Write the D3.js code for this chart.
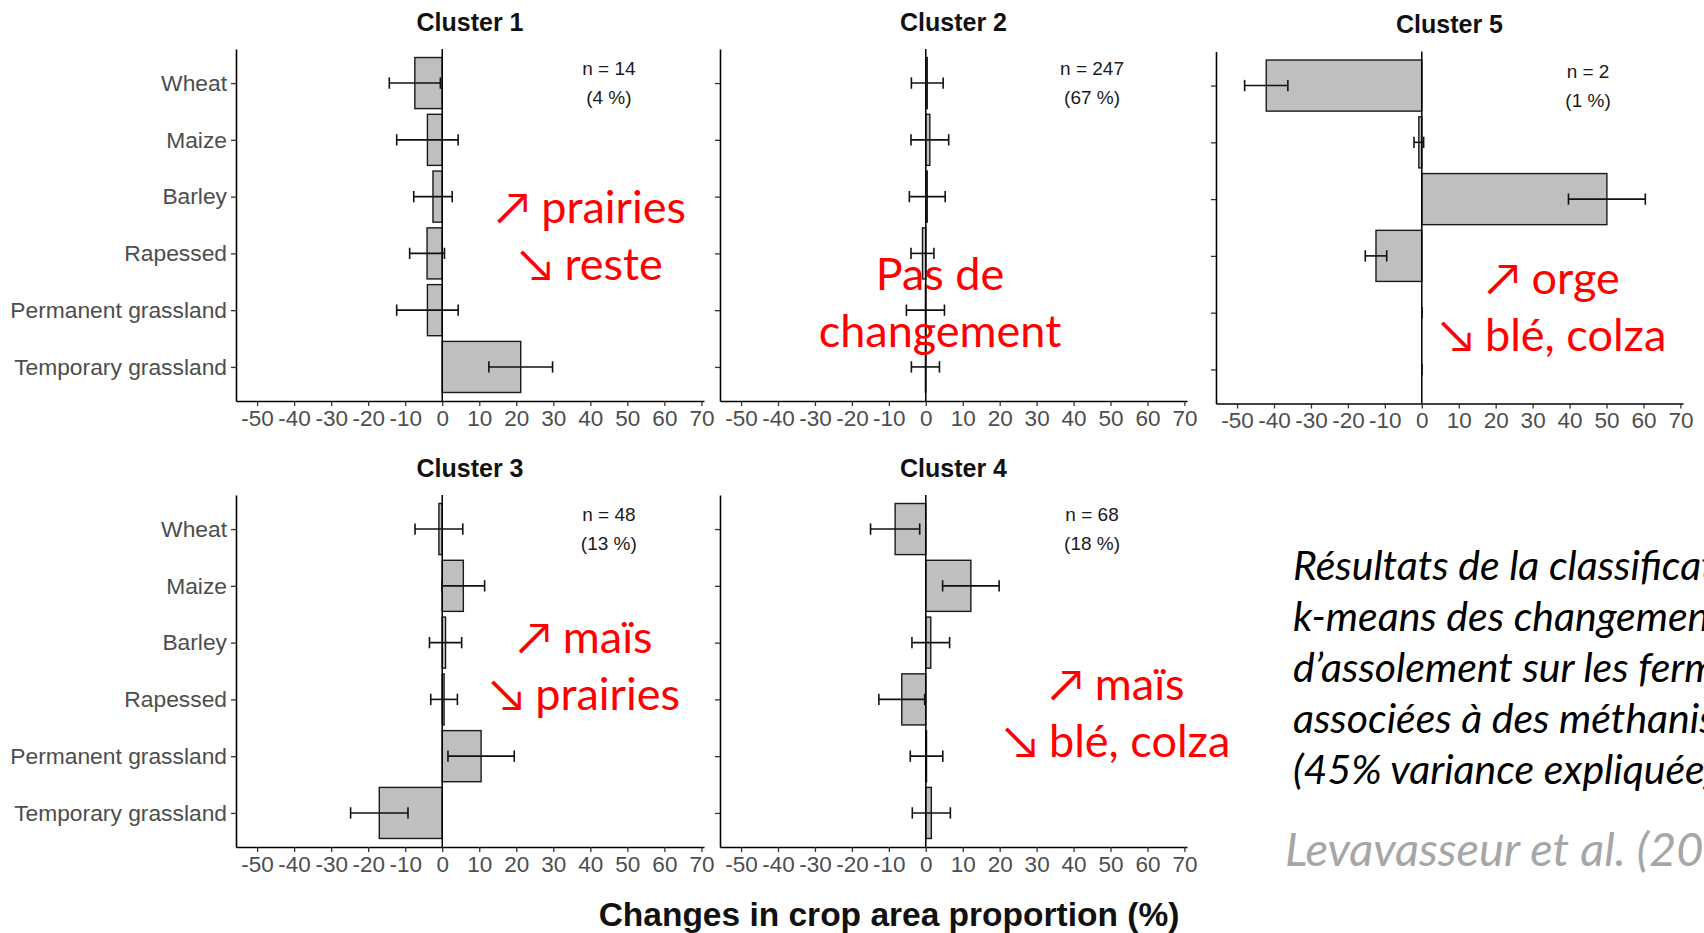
<!DOCTYPE html>
<html>
<head>
<meta charset="utf-8">
<script src="https://cdn.jsdelivr.net/npm/d3@7"></script>
<style>
  html, body { margin: 0; padding: 0; background: #fff; }
  svg { display: block; }
</style>
</head>
<body>
<svg id="chart" width="1704" height="933"></svg>
<script>
// ---------------- DATA ----------------
const categories = ["Wheat", "Maize", "Barley", "Rapessed", "Permanent grassland", "Temporary grassland"];
const xTicks = [-50, -40, -30, -20, -10, 0, 10, 20, 30, 40, 50, 60, 70];
const xDomain = [-55.7, 70.7];

const clusterNames = ["Cluster 1", "Cluster 2", "Cluster 5", "Cluster 3", "Cluster 4"];
const clusterN = [14, 247, 2, 48, 68];
const clusterPct = [4, 67, 1, 13, 18];

const cluster1Mean = [-7.4, -4.0, -2.5, -4.1, -4.0, 21.2];
const cluster1Err  = [6.9, 8.3, 5.2, 4.7, 8.3, 8.6];
const cluster2Mean = [0.4, 1.1, 0.4, -0.9, -0.1, -0.1];
const cluster2Err  = [4.3, 5.1, 4.85, 3.1, 5.15, 3.8];
const cluster5Mean = [-42.1, -0.8, 50.1, -12.4, 0, 0];
const cluster5Err  = [5.85, 1.3, 10.4, 2.9, 0, 0];
const cluster3Mean = [-0.9, 5.7, 0.9, 0.5, 10.5, -17.0];
const cluster3Err  = [6.45, 5.75, 4.35, 3.6, 8.95, 7.75];
const cluster4Mean = [-8.3, 12.2, 1.35, -6.5, 0.2, 1.5];
const cluster4Err  = [6.65, 7.65, 5.1, 6.2, 4.4, 5.15];

const annot1 = ["↗ prairies", "↘ reste"];
const annot2 = ["Pas de", "changement"];
const annot5 = ["↗ orge", "↘ blé, colza"];
const annot3 = ["↗ maïs", "↘ prairies"];
const annot4 = ["↗ maïs", "↘ blé, colza"];

const captionLines = [
  "Résultats de la classification",
  "k-means des changements",
  "d’assolement sur les fermes",
  "associées à des méthaniseurs",
  "(45% variance expliquée)"
];
const sourceText = "Levavasseur et al. (2023)";
const xAxisTitle = "Changes in crop area proportion (%)";

// ---------------- LAYOUT ----------------
const panels = [
  {name: clusterNames[0], n: clusterN[0], pct: clusterPct[0], mean: cluster1Mean, err: cluster1Err, x0: 236, x1: 704, y0: 49, y1: 401, labels: true, annot: annot1, ax: 591, ay: 174},
  {name: clusterNames[1], n: clusterN[1], pct: clusterPct[1], mean: cluster2Mean, err: cluster2Err, x0: 720, x1: 1187, y0: 49, y1: 401, labels: false, annot: annot2, ax: 940, ay: 241},
  {name: clusterNames[2], n: clusterN[2], pct: clusterPct[2], mean: cluster5Mean, err: cluster5Err, x0: 1216, x1: 1683, y0: 51.5, y1: 403.5, labels: false, annot: annot5, ax: 1553, ay: 242},
  {name: clusterNames[3], n: clusterN[3], pct: clusterPct[3], mean: cluster3Mean, err: cluster3Err, x0: 236, x1: 704, y0: 495, y1: 847, labels: true, annot: annot3, ax: 585, ay: 158},
  {name: clusterNames[4], n: clusterN[4], pct: clusterPct[4], mean: cluster4Mean, err: cluster4Err, x0: 720, x1: 1187, y0: 495, y1: 847, labels: false, annot: annot4, ax: 1117, ay: 205}
];

const svg = d3.select("#chart");
svg.append("rect").attr("width", 1704).attr("height", 933).attr("fill", "#fff");

const AXIS_FONT = "'Liberation Sans', Arial, sans-serif";
const SLIDE_FONT = "Lato, 'Open Sans', sans-serif";

panels.forEach(p => {
  const x = d3.scaleLinear().domain(xDomain).range([p.x0, p.x1]);
  const y = d3.scalePoint().domain(categories).range([p.y0, p.y1]).padding(0.6);
  const step = y.step();
  const g = svg.append("g");

  // bars
  g.selectAll("rect.bar").data(categories).join("rect")
    .attr("class", "bar")
    .attr("x", (c, i) => x(Math.min(0, p.mean[i])))
    .attr("width", (c, i) => Math.abs(x(p.mean[i]) - x(0)))
    .attr("y", c => y(c) - 0.45 * step)
    .attr("height", 0.9 * step)
    .attr("fill", "#bfbfbf")
    .attr("stroke", "#1a1a1a")
    .attr("stroke-width", 1.4);

  // zero line
  g.append("line")
    .attr("x1", x(0)).attr("x2", x(0))
    .attr("y1", p.y0).attr("y2", p.y1)
    .attr("stroke", "#000").attr("stroke-width", 1.5);

  // error bars
  const eb = g.selectAll("g.eb").data(categories).join("g").attr("class", "eb")
    .attr("stroke", "#111").attr("stroke-width", 1.6);
  eb.append("line")
    .attr("x1", (c, i) => x(p.mean[i] - p.err[i]))
    .attr("x2", (c, i) => x(p.mean[i] + p.err[i]))
    .attr("y1", c => y(c)).attr("y2", c => y(c));
  eb.append("line")
    .attr("x1", (c, i) => x(p.mean[i] - p.err[i]))
    .attr("x2", (c, i) => x(p.mean[i] - p.err[i]))
    .attr("y1", c => y(c) - 0.1 * step).attr("y2", c => y(c) + 0.1 * step);
  eb.append("line")
    .attr("x1", (c, i) => x(p.mean[i] + p.err[i]))
    .attr("x2", (c, i) => x(p.mean[i] + p.err[i]))
    .attr("y1", c => y(c) - 0.1 * step).attr("y2", c => y(c) + 0.1 * step);

  // x axis
  const gx = svg.append("g").attr("transform", `translate(0,${p.y1})`)
    .call(d3.axisBottom(x).tickValues(xTicks).tickFormat(d => String(d)).tickSize(5).tickSizeOuter(0).tickPadding(4));
  gx.select(".domain").attr("stroke", "#000").attr("stroke-width", 1.6);
  gx.selectAll(".tick line").attr("stroke", "#333").attr("stroke-width", 1.3);
  gx.selectAll(".tick text").attr("fill", "#4d4d4d").attr("font-size", 22.5).attr("font-family", AXIS_FONT);

  // y axis
  const gy = svg.append("g").attr("transform", `translate(${p.x0},0)`)
    .call(d3.axisLeft(y).tickSize(5).tickSizeOuter(0).tickPadding(4).tickFormat(p.labels ? (d => d) : (() => "")));
  gy.select(".domain").attr("stroke", "#000").attr("stroke-width", 1.6);
  gy.selectAll(".tick line").attr("stroke", "#333").attr("stroke-width", 1.3);
  gy.selectAll(".tick text").attr("fill", "#4d4d4d").attr("font-size", 22.8).attr("font-family", AXIS_FONT);

  // title
  svg.append("text")
    .attr("x", (p.x0 + p.x1) / 2).attr("y", p.y0 - 18.5)
    .attr("text-anchor", "middle").attr("font-family", AXIS_FONT)
    .attr("font-weight", "bold").attr("font-size", 25).attr("fill", "#111")
    .text(p.name);

  // n label
  const nt = svg.append("text")
    .attr("text-anchor", "middle").attr("font-family", AXIS_FONT)
    .attr("font-size", 19).attr("fill", "#1a1a1a");
  nt.append("tspan").attr("x", x(45)).attr("y", p.y0 + 26).text(`n = ${p.n}`);
  nt.append("tspan").attr("x", x(45)).attr("y", p.y0 + 55).text(`(${p.pct} %)`);

  // red annotation
  const at = svg.append("text")
    .attr("text-anchor", "middle").attr("font-family", SLIDE_FONT)
    .attr("font-size", 45).attr("fill", "#ff0000");
  p.annot.forEach((t, k) => {
    at.append("tspan").attr("x", p.ax).attr("y", p.y0 + p.ay + k * 57).text(t);
  });
});

// caption
const cap = svg.append("text")
  .attr("font-family", SLIDE_FONT).attr("font-style", "italic")
  .attr("font-size", 41).attr("fill", "#000");
captionLines.forEach((t, k) => {
  cap.append("tspan").attr("x", 1293).attr("y", 580 + k * 51).text(t);
});
svg.append("text")
  .attr("x", 1285).attr("y", 866)
  .attr("font-family", SLIDE_FONT).attr("font-style", "italic")
  .attr("font-size", 47).attr("fill", "#a6a6a6")
  .text(sourceText);

// x axis title
svg.append("text")
  .attr("x", 889).attr("y", 926)
  .attr("text-anchor", "middle").attr("font-family", AXIS_FONT)
  .attr("font-weight", "bold").attr("font-size", 33.5).attr("fill", "#111")
  .text(xAxisTitle);
</script>
</body>
</html>
